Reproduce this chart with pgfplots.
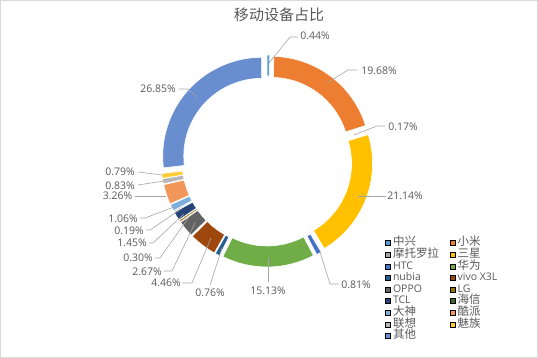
\documentclass[border=0pt]{standalone}
\usepackage{pgfplots}
\pgfplotsset{compat=1.18}
\usepackage{pgfplotstable}
\usepackage{fontspec}
\setmainfont{Open Sans}
\newfontfamily\cjk{Noto Sans CJK SC}
\newcommand\zh[1]{{\cjk\fontsize{11.5}{13}\selectfont #1}}
\definecolor{c0}{HTML}{5B9BD5}
\definecolor{c1}{HTML}{ED7D31}
\definecolor{c2}{HTML}{A5A5A5}
\definecolor{c3}{HTML}{FFC000}
\definecolor{c4}{HTML}{4472C4}
\definecolor{c5}{HTML}{70AD47}
\definecolor{c6}{HTML}{255E91}
\definecolor{c7}{HTML}{9E480E}
\definecolor{c8}{HTML}{636363}
\definecolor{c9}{HTML}{997300}
\definecolor{c10}{HTML}{264478}
\definecolor{c11}{HTML}{43682B}
\definecolor{c12}{HTML}{7CAFDD}
\definecolor{c13}{HTML}{F1975A}
\definecolor{c14}{HTML}{B7B7B7}
\definecolor{c15}{HTML}{FFCD33}
\definecolor{c16}{HTML}{698ED0}
\definecolor{textgray}{HTML}{595959}
\definecolor{leadergray}{HTML}{A6A6A6}
\definecolor{framegray}{HTML}{D9D9D9}
% value = share in percent; tx, ty = centre of its data label (image coords, y downwards)
\pgfplotstableread{
value tx ty
0.44 315 36
19.68 379 71
0.17 403 127
21.14 405 196
0.81 356 285
15.13 268 291
0.76 210 293
4.46 166 283
2.67 147 272
0.30 138 258
1.45 132 243
0.19 129 231
1.06 123 219
3.26 117.5 196
0.83 120 186
0.79 120 172
26.85 158 89
}\piedata
\def\cum{0}%
\pgfplotsforeachungrouped \i in {0,...,16}{%
  \pgfplotstablegetelem{\i}{value}\of\piedata
  \let\v\pgfplotsretval
  \pgfmathsetmacro\segsa{90-3.6*\cum}%
  \pgfmathsetmacro\segmd{90-3.6*(\cum+\v/2)}%
  \pgfmathsetmacro\cum{\cum+\v}%
  \pgfmathsetmacro\segea{90-3.6*\cum}%
  \expandafter\xdef\csname sa\i\endcsname{\segsa}%
  \expandafter\xdef\csname md\i\endcsname{\segmd}%
  \expandafter\xdef\csname ea\i\endcsname{\segea}%
}%
\begin{document}
\begin{tikzpicture}
\begin{axis}[
  width=538pt, height=358pt, scale only axis,
  xmin=0, xmax=538, ymin=0, ymax=358, y dir=reverse,
  hide axis, clip=false,
  legend columns=2,
  legend cell align=left,
  legend image code/.code={\fill[#1] (0pt,-2.5pt) rectangle (5pt,2.5pt);},
  legend style={at={(axis cs:385,237)}, anchor=north west, draw=none, fill=none,
    inner sep=0pt, row sep=0pt,
    font=\fontsize{10.5}{12}\selectfont, text=textgray,
    nodes={inner sep=0.8pt, text height=7.8pt, text depth=2.2pt},
    /tikz/every odd column/.append style={column sep=1.6pt},
    /tikz/every even column/.append style={column sep=10pt}},
  leader/.style={forget plot, leadergray, line width=0.6pt, mark=none},
]
% frame
\draw[framegray, line width=0.75pt] (axis cs:0.4,0.4) rectangle (axis cs:537.6,357.6);
% title
\node[text=textgray, font={\cjk\fontsize{15}{18}\selectfont}] at (axis cs:279,15) {移动设备占比};
% doughnut segments (angles from the table values)
\pgfplotsinvokeforeach{0,...,16}{%
  \edef\temp{\noexpand\filldraw[fill=c#1, draw=white, line width=0.6pt, shift={(axis cs:267,161)}, shift={(\csname md#1\endcsname:7pt)}]
    (\csname sa#1\endcsname:99pt) arc[start angle=\csname sa#1\endcsname, end angle=\csname ea#1\endcsname, radius=99pt]
    -- (\csname ea#1\endcsname:78pt) arc[start angle=\csname ea#1\endcsname, end angle=\csname sa#1\endcsname, radius=78pt] -- cycle;}%
  \temp
}
% leader lines
\addplot[leader] coordinates {(269,63) (290,37) (298,37)};
\addplot[leader] coordinates {(327,83) (348,70) (357,70)};
\addplot[leader] coordinates {(354,135) (377,126) (385,126)};
\addplot[leader] coordinates {(358,196) (386,196)};
\addplot[leader] coordinates {(320,252) (330,284) (339,284)};
\addplot[leader] coordinates {(268,258) (268,282)};
\addplot[leader] coordinates {(222,248) (210,285)};
\addplot[leader] coordinates {(211,238) (192,283) (182,283)};
\addplot[leader] coordinates {(195,223) (172,271) (164,271)};
\addplot[leader] coordinates {(189,217) (160,258) (155,258)};
\addplot[leader] coordinates {(184,214) (153,243) (149,243)};
\addplot[leader] coordinates {(181,209) (150,230) (146,230)};
\addplot[leader] coordinates {(174,207) (145,218) (140,218)};
\addplot[leader] coordinates {(166,196) (135,196)};
\addplot[leader] coordinates {(164,181) (138,185)};
\addplot[leader] coordinates {(162,175) (138,172)};
\addplot[leader] coordinates {(197,97) (188,89) (179,89)};
% data labels
\addplot[forget plot, draw=none, mark=none,
  point meta=\thisrow{value},
  nodes near coords={\pgfmathprintnumber[fixed, fixed zerofill, precision=2, assume math mode=true]{\pgfplotspointmeta}\%},
  nodes near coords align=center,
  every node near coord/.append style={anchor=center, inner sep=0pt, text=textgray, font=\fontsize{10.5}{12}\selectfont},
] table[x=tx, y=ty] {\piedata};
% legend
\pgfplotsinvokeforeach{0,...,16}{\addlegendimage{fill=c#1}}
\legend{\zh{中兴},\zh{小米},\zh{摩托罗拉},\zh{三星},HTC,\zh{华为},nubia,vivo X3L,OPPO,LG,TCL,\zh{海信},\zh{大神},\zh{酷派},\zh{联想},\zh{魅族},\zh{其他}}
\end{axis}
\end{tikzpicture}
\end{document}
